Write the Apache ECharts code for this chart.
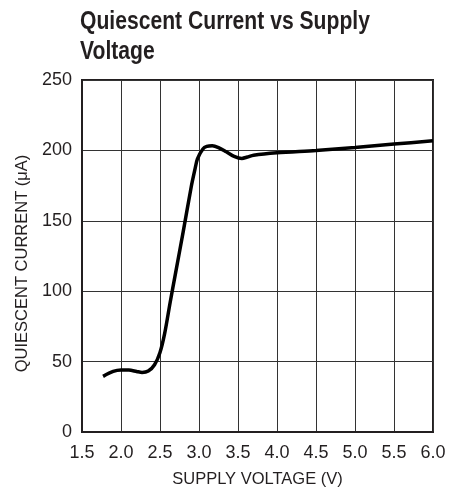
<!DOCTYPE html>
<html>
<head>
<meta charset="utf-8">
<script src="https://cdn.jsdelivr.net/npm/echarts@6/dist/echarts.min.js"></script>
<style>
html,body{margin:0;padding:0;background:#fff;}
#chart{width:460px;height:492px;}
</style>
</head>
<body>
<div id="chart"></div>
<script>
var titleText = "Quiescent Current vs Supply\nVoltage";
var xAxisName = "SUPPLY VOLTAGE (V)";
var yAxisName = "QUIESCENT CURRENT (\u03BCA)";
var voltage = [1.77, 1.9, 2.0, 2.1, 2.2, 2.27, 2.35, 2.43, 2.5, 2.56, 2.63, 2.7, 2.8, 2.9, 2.95, 2.98, 3.05, 3.1, 3.17, 3.25, 3.35, 3.45, 3.55, 3.62, 3.7, 4.0, 4.5, 5.0, 5.5, 6.0];
var current = [39.5, 43, 44, 44, 43, 42.3, 43.3, 47.8, 56.5, 70, 92, 113, 143, 174, 187, 194, 201, 202.8, 203.3, 202, 199, 195.8, 194.3, 195.3, 196.6, 198.3, 200, 202.1, 204.5, 206.8];

var chart = echarts.init(document.getElementById('chart'), null, {renderer: 'canvas'});
var dark = '#231f20';
var fontLbl = '"Liberation Sans", Arial, sans-serif';
chart.setOption({
  animation: false,
  graphic: [{
    type: 'text',
    x: 80, y: 7,
    scaleX: 0.845,
    style: {
      text: titleText,
      fontFamily: '"Liberation Sans", Arial, sans-serif',
      fontWeight: 'bold',
      fontSize: 25,
      lineHeight: 30,
      fill: dark,
      align: 'left',
      verticalAlign: 'top'
    }
  }],
  grid: {left: 82, right: 27, top: 80, bottom: 60, containLabel: false, outerBoundsMode: 'none', show: true, borderColor: dark, borderWidth: 2, backgroundColor: 'transparent'},
  xAxis: {
    type: 'value', min: 1.5, max: 6.0, interval: 0.5,
    name: xAxisName, nameLocation: 'middle', nameGap: 39,
    nameTextStyle: {fontFamily: fontLbl, fontSize: 16.5, color: dark},
    axisLine: {show: true, lineStyle: {color: dark, width: 2}},
    axisTick: {show: false},
    axisLabel: {formatter: function(v){return v.toFixed(1);}, fontFamily: fontLbl, fontSize: 18, color: dark, margin: 12},
    splitLine: {show: true, lineStyle: {color: '#333', width: 1}}
  },
  yAxis: {
    type: 'value', min: 0, max: 250, interval: 50,
    name: yAxisName, nameLocation: 'middle', nameGap: 49,
    nameTextStyle: {fontFamily: fontLbl, fontSize: 16.5, color: dark, padding: [0, 15, 0, 0]},
    axisLine: {show: true, lineStyle: {color: dark, width: 2}},
    axisTick: {show: false},
    axisLabel: {fontFamily: fontLbl, fontSize: 18, color: dark, margin: 10},
    splitLine: {show: true, lineStyle: {color: '#333', width: 1}}
  },
  series: [{
    type: 'line',
    data: voltage.map(function(v, i){return [v, current[i]];}),
    smooth: 0.3,
    showSymbol: false,
    lineStyle: {color: '#000', width: 3.5},
    z: 5
  }]
});
</script>
</body>
</html>
